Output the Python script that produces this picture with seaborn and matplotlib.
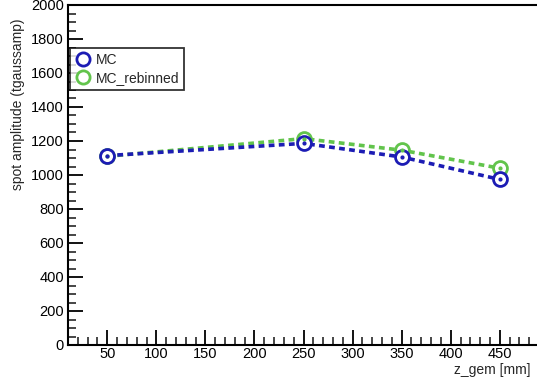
import numpy as np
import pandas as pd
import matplotlib
matplotlib.use("Agg")
import matplotlib.pyplot as plt
import seaborn as sns
from matplotlib.lines import Line2D
from matplotlib.ticker import MultipleLocator

# ---- data ----
z_gem = [50, 250, 350, 450]
mc_amp = [1114, 1186, 1106, 974]
mc_err = [12, 15, 18, 40]
reb_amp = [1110, 1214, 1146, 1040]
reb_err = [12, 15, 18, 30]
series_names = ["MC", "MC_rebinned"]

blue = "#1c1cb4"
green = "#62c44c"

sns.set_theme(style="white")
plt.rcParams['font.family'] = ['Liberation Sans', 'DejaVu Sans']

fig = plt.figure(figsize=(5.37, 3.79), dpi=100)
ax = fig.add_axes([68/537, 34/379, 471/537, 340/379])

df = pd.DataFrame({
    "z": z_gem * 2,
    "amp": mc_amp + reb_amp,
    "series": [series_names[0]] * len(z_gem) + [series_names[1]] * len(z_gem),
})

for name, col, err in [(series_names[1], green, reb_err), (series_names[0], blue, mc_err)]:
    sub = df[df.series == name]
    sns.lineplot(data=sub, x="z", y="amp", ax=ax, color=col, linewidth=2.6,
                 linestyle=(0, (1.6, 1.2)), legend=False, zorder=2)
    ax.errorbar(sub.z, sub.amp, yerr=err, fmt="none", ecolor=col, elinewidth=1.6, zorder=3)
    ax.scatter(sub.z, sub.amp, s=100, facecolors="white", edgecolors=col, linewidths=2.0, zorder=4)
    ax.scatter(sub.z, sub.amp, s=4, color=col, zorder=5)

ax.set_xlim(10, 490)
ax.set_ylim(0, 2000)
ax.xaxis.set_major_locator(MultipleLocator(50))
ax.xaxis.set_minor_locator(MultipleLocator(10))
ax.yaxis.set_major_locator(MultipleLocator(200))
ax.yaxis.set_minor_locator(MultipleLocator(50))
ax.tick_params(which="major", direction="in", length=11, width=1.3, labelsize=10.5,
               colors="black", top=False, right=False, bottom=True, left=True)
ax.tick_params(axis="x", which="major", pad=1.5)
ax.tick_params(axis="y", which="major", pad=3)
ax.tick_params(which="minor", direction="in", length=5.5, width=1.2,
               top=False, right=False, bottom=True, left=True)
xt = list(range(50, 451, 50))
ax.set_xticks(xt)
ax.set_xticklabels([str(v) for v in xt])
yt = list(range(0, 2001, 200))
ax.set_yticks(yt)
ax.set_yticklabels([str(v) for v in yt])

for s in ax.spines.values():
    s.set_color("black")
    s.set_linewidth(1.5)

ax.set_xlabel("")
ax.set_ylabel("")
fig.text(531/537, 1 - 370/379, "z_gem [mm]", ha="right", va="center", fontsize=10)
fig.text(18/537, 1 - 104/379, "spot amplitude (tgaussamp)", rotation=90,
         ha="center", va="center", fontsize=10)

handles = [
    Line2D([], [], marker="o", linestyle="none", markersize=9.5, markerfacecolor="white",
           markeredgecolor=blue, markeredgewidth=2.0),
    Line2D([], [], marker="o", linestyle="none", markersize=9.5, markerfacecolor="white",
           markeredgecolor=green, markeredgewidth=2.0),
]
leg = ax.legend(handles, series_names, loc="upper left",
                bbox_to_anchor=(2/471, 1 - 43/340), fontsize=10, frameon=True,
                fancybox=False, borderpad=0.35, handletextpad=0.3, handlelength=1.2,
                labelspacing=0.3, borderaxespad=0)
leg.get_frame().set_edgecolor("black")
leg.get_frame().set_linewidth(1.3)

fig.savefig("out.png", dpi=100, facecolor="white")
